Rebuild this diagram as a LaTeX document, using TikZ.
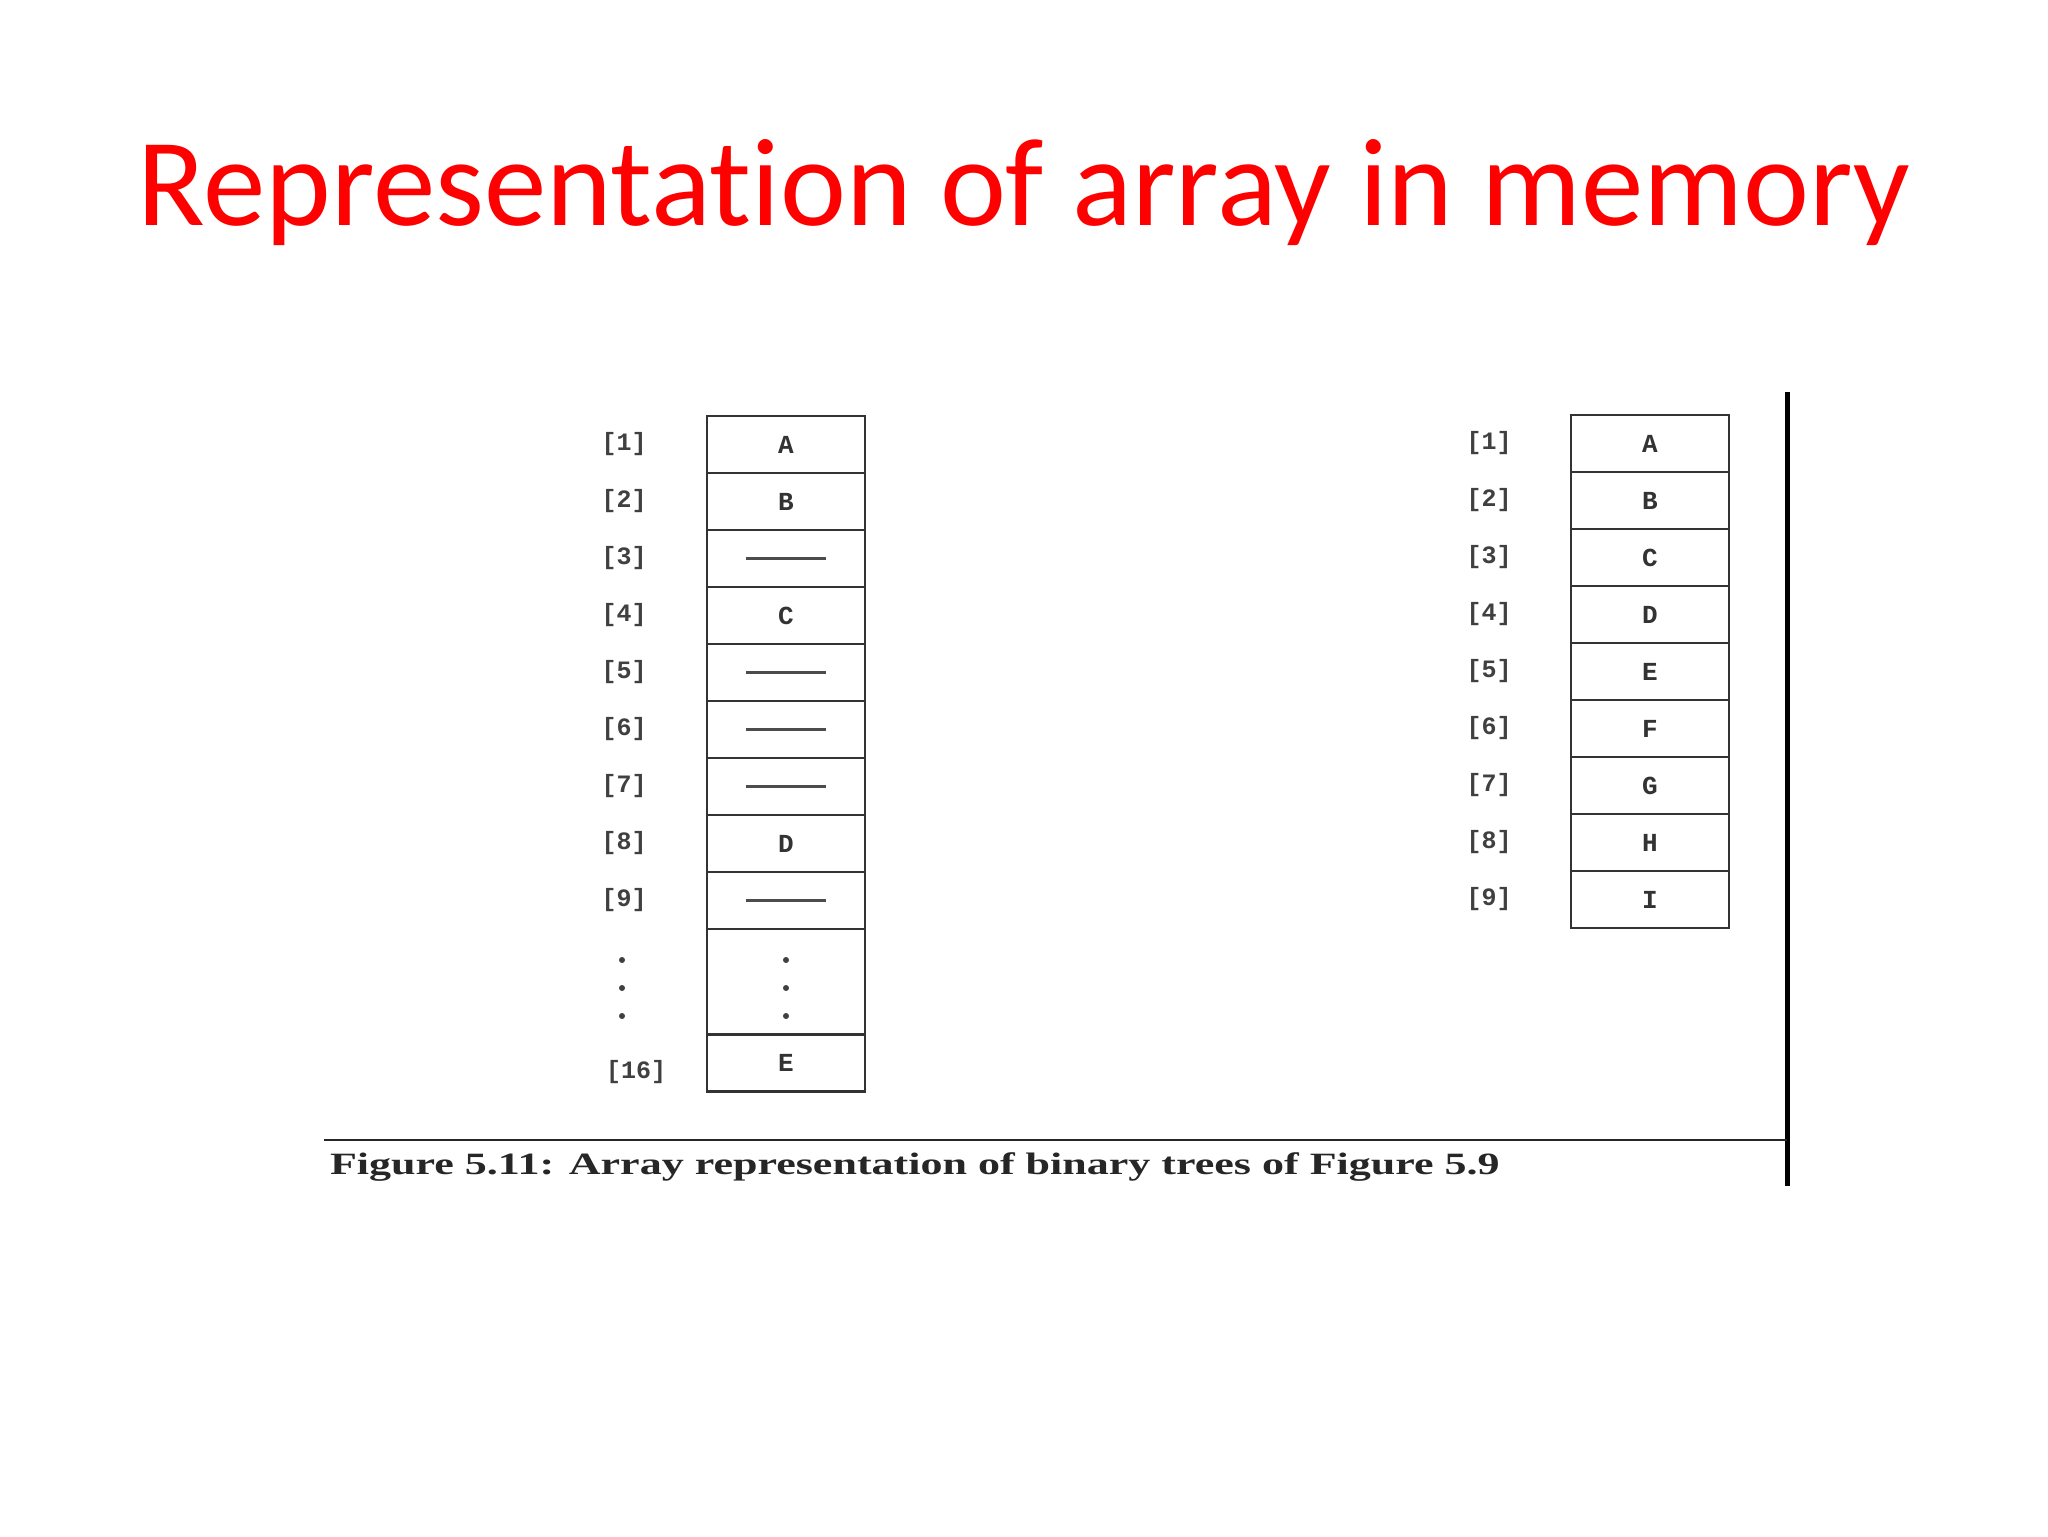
\documentclass[tikz,border=0pt]{standalone}
\usepackage{fontspec}
\setmainfont{Liberation Serif}
\newfontfamily\titlefont[Ligatures=NoCommon]{Carlito}
\newfontfamily\monof{Liberation Mono}
\begin{document}
\begin{tikzpicture}[x=0.5pt,y=-0.5pt,
  cell/.style={draw=black!80,line width=1.2pt,minimum width=79pt,minimum height=28.5pt,inner sep=0pt,font=\monof\bfseries\fontsize{13}{13}\selectfont,text=black!80},
  lab/.style={font=\monof\bfseries\fontsize{12.5}{12.5}\selectfont,text=black!75}]
\useasboundingbox (0,0) rectangle (2048,1536);
\node[font=\titlefont\fontsize{62.5}{62.5}\selectfont,text=red] (title) at (1024,193) {Representation of array in memory};
% left array
\foreach \t/\e [count=\i] in {A/0,B/0,{}/1,C/0,{}/1,{}/1,{}/1,D/0,{}/1}{
  \node[cell] (L\i) at (786,{416+57*(\i-0.5)}) {\t};
  \node[lab] (LL\i) at (624,{416+57*(\i-0.5)}) {[\i]};
  \ifnum\e=1 \draw[line width=1.3pt,black!70] ([xshift=-20pt]L\i.center) -- ([xshift=20pt]L\i.center);\fi
}
\node[cell,minimum height=52.5pt] (Ldots) at (786,981.5) {};
\node[cell] (L16) at (786,1063) {E};
\node[lab] (LL16) at (636,1072) {[16]};
\foreach \yy in {960,988,1016}{
  \fill[black!75] (786,\yy) circle (1.5pt);
  \fill[black!75] (622,\yy) circle (1.5pt);
}
% right array
\foreach \t [count=\i] in {A,B,C,D,E,F,G,H,I}{
  \node[cell] (R\i) at (1650,{415+57*(\i-0.5)}) {\t};
  \node[lab] (RL\i) at (1489,{415+57*(\i-0.5)}) {[\i]};
}
\coordinate (vt) at (1787,392);
\coordinate (vb) at (1787,1186);
\draw[line width=2.5pt] (vt) -- (vb);
\coordinate (hl) at (324,1140);
\coordinate (hr) at (1787,1140);
\draw[line width=1.2pt,black!85] (hl) -- (hr);
\node[anchor=west,font=\bfseries\fontsize{15.5}{15.5}\selectfont,text=black!85,xscale=1.42] (cap) at (320,1167) {Figure 5.11: Array representation of binary trees of Figure 5.9};
\end{tikzpicture}
\end{document}
